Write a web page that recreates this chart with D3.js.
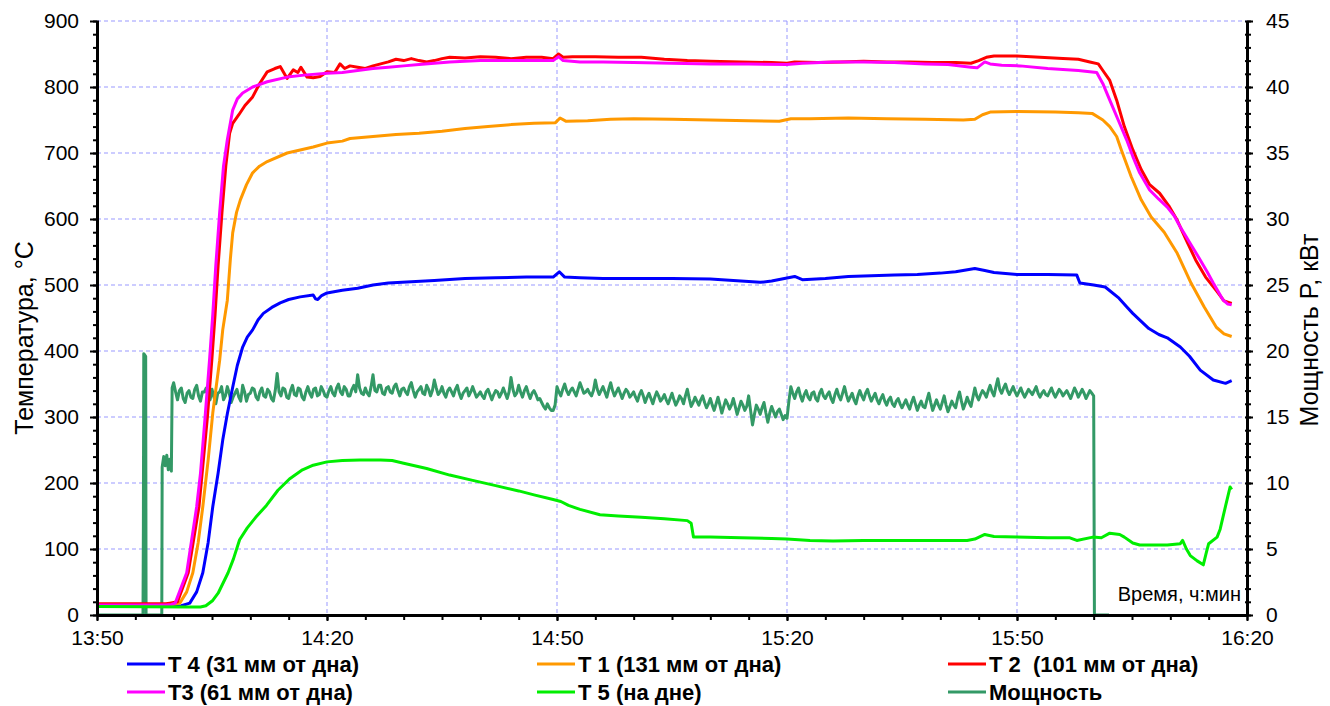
<!DOCTYPE html>
<html>
<head>
<meta charset="utf-8">
<script src="https://cdn.jsdelivr.net/npm/d3@7"></script>
<style>
  body { margin: 0; background: #fff; }
  svg { font-family: Arial, "Liberation Sans", sans-serif; }
</style>
</head>
<body>
<svg width="1330" height="706"></svg>
<script>
// [minutes after 13:50, °C]
const t4 = [[0,13],[10,13],[11,14],[12.1,18],[13,35],[13.8,64],[14.5,110],[15.1,164],[15.8,215],[16.4,265],[17,305],
  [17.7,345],[18.3,378],[19,406],[19.6,421],[20.3,432],[21,447],[21.7,457],[22.8,466],[23.9,473],[25,478],[26.5,482],
  [28.2,485],[28.5,479],[28.8,478],[29.3,484],[30,488],[32,492],[34,495],[36,500],[38,503],[41,505],[44,507],[48,510],
  [52,511],[56,512],[59.5,512],[60.3,520],[61,512],[63,511],[66,510],[70,510],[75,510],[80,509],[83,507],[86.5,504],
  [88,506],[91,513],[92,508],[95,510],[98,513],[101,514],[104,515],[107,516],[110,518],[112,520],[114.5,525],[115.8,522],
  [117,519],[120,516],[124,516],[127.8,515],[128.2,503],[130,500],[131.5,497],[133.3,480],[134.3,467],[135.1,457],
  [136.2,445],[137.2,434],[138.5,425],[139.6,420],[141.3,406],[142.5,392],[143.9,371],[145.6,356],[147.2,351],[148,355]];

const t1 = [[0,15],[9.5,15],[10.8,18],[11.7,35],[12.5,64],[13.2,110],[13.8,164],[14.5,235],[15.1,306],[16,386],[16.4,432],
  [17,477],[17.4,540],[17.7,579],[18.2,610],[18.7,629],[19.5,652],[20.3,670],[21.2,680],[22.2,687],[24.8,700],[28.2,709],
  [30,715],[32,718],[33,722],[36,725],[39,728],[42,730],[45,733],[48,737],[51,740],[54,743],[57,745],[59.8,746],[60.4,753],
  [61.2,748],[64,749],[67,751],[70,752],[75,751],[80,750],[85,749],[89,748],[90.5,752],[93,752],[98,753],[103,752],
  [108,751],[113,750],[114.5,751],[115.5,758],[116.5,762],[120,763],[125,762],[128,761],[129.8,760],[131.2,750],
  [132.1,740],[133,725],[133.6,705],[134.9,664],[136.2,629],[137.5,603],[139.2,580],[140.9,548],[142.7,503],[144.4,467],
  [146,436],[147,426],[148,422]];

const t2 = [[0,17],[9,17],[9.5,18],[10.5,20],[11.9,64],[13.3,164],[14.4,300],[15,390],[15.4,455],[15.8,530],[16.3,610],
  [16.8,680],[17.3,730],[17.7,745],[18.5,758],[19.3,772],[20.3,785],[21.2,805],[22.2,823],[23.2,828],[23.9,831],
  [24.8,813],[25.6,826],[26.2,822],[26.6,830],[27.4,815],[28.2,814],[29.1,816],[30,823],[31,822],[31.7,835],[32.3,828],
  [33,832],[34,830],[35,828],[36,832],[37,835],[38,838],[39,842],[40,840],[41,843],[42,840],[43,838],[44,840],[45,843],
  [46,845],[48,844],[50,846],[52,845],[54,843],[56,845],[58,845],[59.5,843],[60.2,850],[60.8,845],[62,846],[65,846],
  [68,845],[71,845],[74,842],[77,840],[80,839],[84,838],[88,837],[90,836],[91,838],[94,837],[97,838],[100,839],[103,838],
  [106,838],[109,837],[112,837],[114,836],[115,840],[116,845],[117,847],[120,847],[123,845],[126,843],[128,842],
  [129.5,838],[130.6,835],[131.2,825],[132.1,810],[133,780],[134,740],[135.1,705],[136.2,675],[137.3,652],[138.6,639],
  [139.8,620],[140.9,598],[142,570],[143.3,538],[144.6,512],[146.1,490],[147,476],[148,472]];

const t3 = [[0,15],[9,15],[9.7,16],[10.2,18],[11.7,64],[13,164],[13.5,215],[14.1,300],[14.7,390],[15.1,455],[15.5,530],
  [16,610],[16.5,680],[17,720],[17.7,765],[18.3,782],[19,791],[20.3,800],[22.2,808],[24.8,815],[27,818],[30,821],[32,822],
  [34,825],[36,828],[38,830],[40,832],[42,834],[44,836],[46,838],[48,839],[50,840],[55,840],[59.5,840],[60.2,846],
  [60.8,840],[63,838],[66,838],[70,837],[75,836],[80,835],[85,835],[90,834],[92,836],[96,838],[100,838],[104,837],
  [108,835],[111,834],[114,830],[114.8,829],[115.8,838],[116.5,835],[118,833],[120.4,832],[124,828],[128,825],[130.4,822],
  [131.2,805],[132.1,780],[133.2,750],[134.3,720],[135.1,695],[136,670],[137.3,644],[138.5,630],[139.6,618],[140.5,605],
  [141.3,588],[142.6,563],[143.9,538],[144.8,520],[145.6,503],[146.9,477],[147.5,471],[148,470]];

const t5 = [[0,13],[12,12],[13.5,12],[14.2,14],[15.1,22],[15.8,33],[17.1,64],[17.8,85],[18.6,114],[19.6,132],[20.7,148],
  [22.1,166],[23.6,189],[25.1,206],[26.8,220],[28.2,227],[30,232],[32,234],[34.3,235],[37,235],[38.5,234],[40,230],
  [43,222],[46,212],[49,204],[52,196],[55,188],[57,182],[59.5,175],[60.5,172],[61.5,166],[63,160],[65.6,152],[68,150],
  [71,148],[74,146],[77,143],[77.5,139],[77.8,118],[80,118],[84,117],[88,116],[90,115],[93,113],[96,112],[100,113],
  [105,113],[110,113],[113.5,113],[114.5,115],[115.8,122],[117,119],[120,118],[124,117],[126.9,117],[127.8,113],
  [129.9,118],[131,117],[132.1,124],[133.4,122],[134,118],[135.1,109],[136,106],[139.6,106],[141.3,108],[141.6,113],
  [142.1,100],[142.6,90],[143.5,82],[144.3,76],[144.7,95],[145,108],[146.1,118],[146.5,130],[147.2,165],[147.8,194],[148,190]];

// power, kW: start-up and shut-down points [minutes, kW]
const powerStartUp = [[0,0],[6,0],[6.05,6.7],[6.1,19.8],[6.35,19.6],[6.4,0],[8.45,0],[8.5,11.2],[8.7,12],[8.9,11.3],
  [9.1,12.1],[9.3,11],[9.5,11.8],[9.7,10.9],[9.8,17.2]];
const powerShutDown = [[130.1,0],[132,0]];
// steady operation, one reading every quarter minute from 10:00 min (one row = 5 min)
const powerSteadyStart = 10;
const powerSteadyStep = 0.25;
const powerSteady = [
  17.6,16.9,16.3,17.0,17.2,16.4,16.1,16.8,17.0,16.5,16.4,17.1,17.4,16.6,16.2,16.9,16.9,17.2,16.5,16.3,
  17.1,16.5,16.0,16.8,16.9,17.3,16.3,16.6,17.3,16.8,16.1,16.5,16.8,17.1,16.5,16.2,17.4,16.9,16.2,16.7,
  16.8,17.2,17.1,16.5,16.3,16.9,17.2,16.6,16.5,17.1,16.9,16.4,16.2,17.0,18.3,16.9,16.6,17.2,17.1,16.5,
  16.4,17.0,17.4,16.7,16.6,17.2,17.1,16.5,16.3,16.9,17.3,16.8,16.5,17.1,17.2,16.6,16.7,17.3,17.0,16.6,
  16.5,17.0,17.3,16.8,16.6,17.2,17.5,16.9,16.7,17.3,17.1,16.6,16.6,17.1,17.4,16.9,18.2,17.2,16.8,16.7,
  17.2,16.8,16.6,17.3,18.2,17.0,16.9,17.4,17.4,16.8,16.7,17.2,17.3,16.9,16.8,17.3,17.5,17.0,16.6,17.1,
  17.2,16.9,16.7,17.3,17.6,17.0,16.5,16.9,17.1,17.3,16.8,16.7,17.4,17.1,16.6,17.0,17.8,17.2,16.7,16.9,
  17.3,16.8,16.5,17.0,17.2,16.9,16.6,17.1,17.4,16.8,16.4,16.8,17.0,17.2,16.6,16.9,17.3,16.9,16.5,16.7,
  16.9,16.6,16.4,16.9,17.1,16.7,16.3,16.7,17.0,16.9,16.5,16.8,17.2,16.8,16.4,16.9,18.0,17.1,16.6,16.8,
  17.4,16.9,16.5,17.0,17.3,16.8,16.4,16.8,17.0,16.7,16.3,16.4,16.1,15.8,15.6,16.0,15.7,15.5,15.5,15.9,
  17.3,16.9,16.6,17.1,17.5,17.0,16.7,17.0,17.2,16.9,16.6,17.1,17.6,17.2,16.8,16.9,17.1,16.8,16.6,17.0,
  17.8,17.1,16.7,17.0,17.3,16.9,16.5,17.1,17.6,17.0,16.6,16.9,17.2,16.8,16.4,16.8,17.1,16.9,16.5,16.7,
  16.9,16.5,16.2,16.7,17.0,16.6,16.1,16.5,16.8,16.4,16.0,16.5,16.9,16.6,16.2,16.4,16.7,16.3,16.0,16.4,
  16.8,16.3,15.9,16.2,16.6,16.4,16.0,16.6,17.1,16.4,15.8,16.1,16.5,16.2,15.9,16.3,16.6,16.1,15.7,16.0,
  16.4,15.9,15.5,16.0,16.5,15.9,15.3,15.8,16.3,16.0,15.6,15.9,16.4,15.8,15.2,15.7,16.2,15.9,15.5,15.8,
  16.6,15.5,14.4,15.2,15.9,15.6,15.2,15.7,16.1,15.3,14.6,15.3,15.8,15.4,15.0,15.4,15.6,15.2,14.8,15.1,
  14.9,16.2,17.3,16.8,16.4,16.9,17.2,16.6,16.2,16.7,17.0,16.5,16.3,16.8,16.9,16.4,16.2,16.8,17.1,16.6,
  16.4,16.7,16.9,16.4,16.1,16.7,17.1,16.6,16.3,16.8,17.3,16.7,16.2,16.5,16.8,16.3,16.0,16.6,17.0,16.6,
  16.3,16.8,17.1,16.6,16.2,16.5,16.8,16.3,16.0,16.4,16.7,16.2,15.9,16.3,16.5,16.0,15.8,16.2,16.4,16.0,
  15.7,16.0,16.3,15.9,15.6,16.1,16.5,16.0,15.5,15.9,16.2,15.8,15.7,16.3,16.8,16.1,15.5,15.9,16.3,15.9,
  15.6,16.1,16.6,15.9,15.4,15.8,16.2,15.9,15.7,16.4,16.9,16.2,15.6,16.0,16.5,16.1,15.8,16.5,17.2,16.6,
  16.3,16.7,17.0,16.8,16.5,17.0,17.4,16.9,16.6,17.3,17.9,17.1,16.8,17.2,17.5,17.0,16.7,17.0,17.3,16.9,
  16.6,16.9,17.2,16.8,16.5,16.8,17.1,16.9,16.7,17.0,17.3,16.8,16.5,16.8,17.0,16.7,16.6,16.9,17.2,16.8,
  16.5,16.8,17.1,16.9,16.6,16.8,17.0,16.7,16.4,16.8,17.2,16.9,16.5,16.8,17.1,16.8,16.4,16.7,17.0,16.8,
  16.6];

const xTickMinutes = [0, 30, 60, 90, 120, 150];
const tempTicks = [0, 100, 200, 300, 400, 500, 600, 700, 800, 900];
const powerTicks = [0, 5, 10, 15, 20, 25, 30, 35, 40, 45];

const series = [
  {name: 'T 4 (31 мм от дна)', color: '#0000ff', data: t4},
  {name: 'T 1 (131 мм от дна)', color: '#ff9900', data: t1},
  {name: 'T 2\u00a0 (101 мм от дна)', color: '#ff0000', data: t2},
  {name: 'T3 (61 мм от дна)', color: '#ff00ff', data: t3},
  {name: 'T 5 (на дне)', color: '#00ee00', data: t5},
];
const powerName = 'Мощность';
const powerColor = '#339966';

const power = powerStartUp
  .concat(powerSteady.map((v, i) => [powerSteadyStart + i * powerSteadyStep, v]))
  .concat(powerShutDown);

const svg = d3.select('svg');
const plotLeft = 97, plotRight = 1247, plotTop = 21, plotBottom = 615;

const base = new Date(2000, 0, 1, 13, 50);
const toDate = (m) => new Date(base.getTime() + m * 60000);

const x = d3.scaleTime().domain([toDate(0), toDate(150)]).range([plotLeft, plotRight]);
const yT = d3.scaleLinear().domain([0, 900]).range([plotBottom, plotTop]);
const yP = d3.scaleLinear().domain([0, 45]).range([plotBottom, plotTop]);

// grid
const grid = svg.append('g').attr('stroke', '#9999ff').attr('stroke-width', 1).attr('stroke-dasharray', '4,3');
grid.selectAll('.h').data(tempTicks.slice(1)).enter().append('line')
  .attr('x1', plotLeft).attr('x2', plotRight).attr('y1', (d) => yT(d)).attr('y2', (d) => yT(d));
grid.selectAll('.v').data(xTickMinutes.slice(1, -1)).enter().append('line')
  .attr('x1', (d) => x(toDate(d))).attr('x2', (d) => x(toDate(d))).attr('y1', plotTop).attr('y2', plotBottom);

// lines
const powerLine = d3.line().x((d) => x(toDate(d[0]))).y((d) => yP(d[1]));
svg.append('path').datum(power)
  .attr('fill', 'none').attr('stroke', powerColor).attr('stroke-width', 3)
  .attr('stroke-linejoin', 'round').attr('d', powerLine);

const tempLine = d3.line().x((d) => x(toDate(d[0]))).y((d) => yT(d[1]));
series.forEach((s) => {
  svg.append('path').datum(s.data)
    .attr('fill', 'none').attr('stroke', s.color).attr('stroke-width', 3)
    .attr('stroke-linejoin', 'round').attr('d', tempLine);
});

// axes
const fmt = d3.timeFormat('%H:%M');
const styleAxis = (g) => {
  g.select('.domain').attr('stroke', '#000').attr('stroke-width', 3);
  g.selectAll('.tick line').attr('stroke', '#000').attr('stroke-width', 2);
  g.selectAll('.tick text').attr('fill', '#000').attr('font-size', 21);
};

svg.append('g').attr('transform', `translate(${plotLeft},0)`)
  .call(d3.axisLeft(yT).tickValues(d3.range(0, 901, 20)).tickSize(4).tickFormat(''))
  .call((g) => g.select('.domain').remove())
  .call((g) => g.selectAll('line').attr('stroke', '#000').attr('stroke-width', 2).attr('x2', -4).attr('x1', 2));
svg.append('g').attr('transform', `translate(${plotRight},0)`)
  .call(d3.axisRight(yP).tickValues(d3.range(0, 46, 1)).tickSize(4).tickFormat(''))
  .call((g) => g.select('.domain').remove())
  .call((g) => g.selectAll('line').attr('stroke', '#000').attr('stroke-width', 2).attr('x2', 4).attr('x1', -2));
svg.append('g').attr('transform', `translate(0,${plotBottom})`)
  .call(d3.axisBottom(x).tickValues(d3.range(0, 151, 5).map(toDate)).tickSize(5).tickFormat(''))
  .call((g) => g.select('.domain').remove())
  .call((g) => g.selectAll('line').attr('stroke', '#000').attr('stroke-width', 2));

svg.append('g').attr('transform', `translate(${plotLeft},0)`)
  .call(d3.axisLeft(yT).tickValues(tempTicks).tickSize(7).tickSizeOuter(0).tickPadding(11))
  .call(styleAxis);
svg.append('g').attr('transform', `translate(${plotRight},0)`)
  .call(d3.axisRight(yP).tickValues(powerTicks).tickSize(6).tickSizeOuter(0).tickPadding(13))
  .call(styleAxis);
svg.append('g').attr('transform', `translate(0,${plotBottom})`)
  .call(d3.axisBottom(x).tickValues(xTickMinutes.map(toDate)).tickFormat(fmt)
    .tickSize(6).tickSizeOuter(0).tickPadding(9))
  .call(styleAxis);

// axis titles
svg.append('text').attr('transform', 'translate(33,338) rotate(-90)')
  .attr('text-anchor', 'middle').attr('font-size', 25).text('Температура, °C');
svg.append('text').attr('transform', 'translate(1318,330) rotate(-90)')
  .attr('text-anchor', 'middle').attr('font-size', 25).text('Мощность P, кВт');
svg.append('text').attr('x', 1241).attr('y', 601).attr('text-anchor', 'end')
  .attr('font-size', 20).text('Время, ч:мин');

// legend
const legendItems = series.map((s) => ({name: s.name, color: s.color}))
  .concat([{name: powerName, color: powerColor}]);
const legendCols = [127, 537, 948];
const legendRows = [664, 692];
const legend = svg.append('g').selectAll('g').data(legendItems).enter().append('g')
  .attr('transform', (d, i) => `translate(${legendCols[i % 3]},${legendRows[Math.floor(i / 3)]})`);
legend.append('line').attr('x1', 0).attr('x2', 38)
  .attr('stroke', (d) => d.color).attr('stroke-width', 3);
legend.append('text').attr('x', 41).attr('dy', '0.35em')
  .attr('font-size', 22).attr('font-weight', 'bold').text((d) => d.name);
</script>
</body>
</html>
